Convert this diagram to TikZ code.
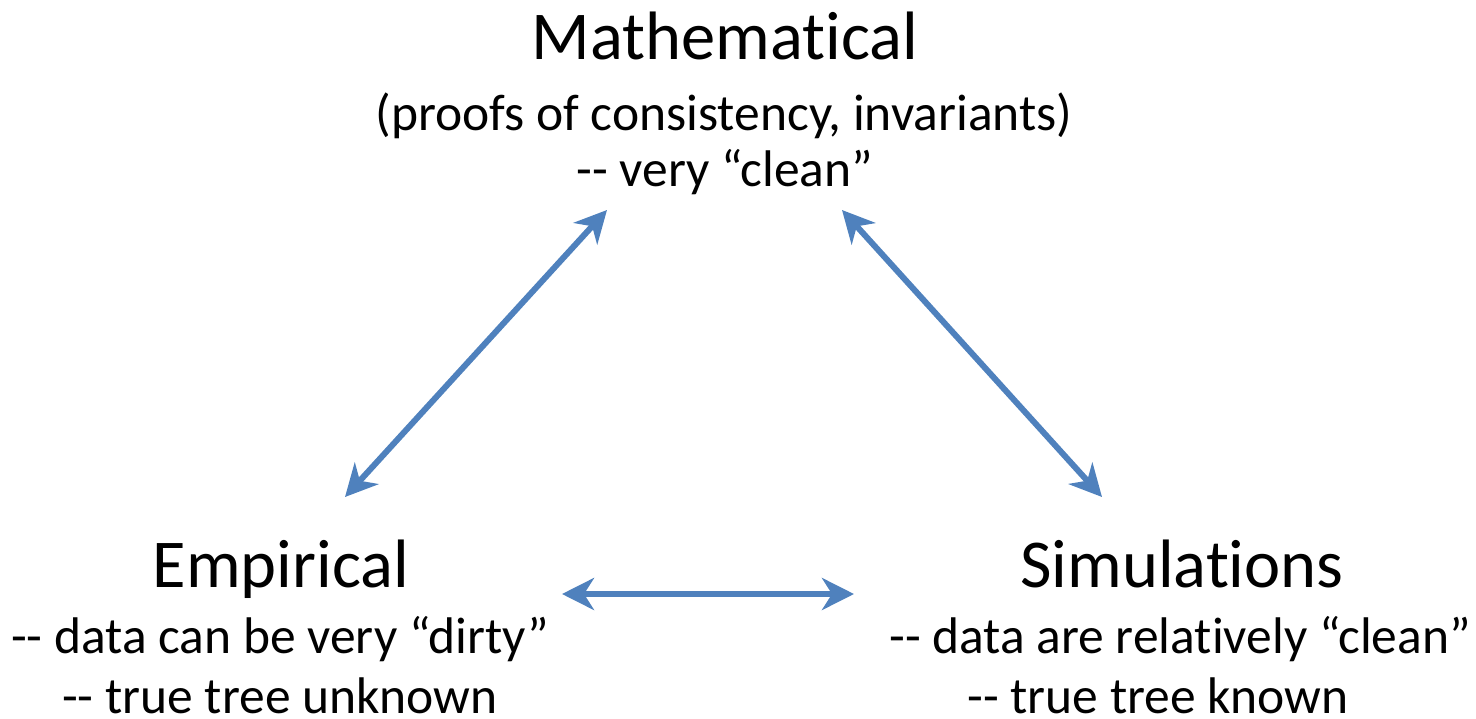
\documentclass[tikz,border=0pt]{standalone}
\usepackage{fontspec}
\setmainfont[Ligatures={NoCommon,TeX}]{Carlito}
\usetikzlibrary{arrows.meta}
\definecolor{arrowblue}{HTML}{4F81BD}
\tikzset{
  big/.style={anchor=base, inner sep=0pt, font=\fontsize{68.5}{72}\selectfont},
  small/.style={anchor=base, inner sep=0pt, font=\fontsize{51.5}{55}\selectfont},
  link/.style={draw=arrowblue, line width=6pt,
    {Stealth[length=32pt, width=32pt, inset=10pt]}-{Stealth[length=32pt, width=32pt, inset=10pt]}},
}
\begin{document}
\begin{tikzpicture}[x=1pt, y=-1pt]
\useasboundingbox (0,0) rectangle (1476,718);
\node[big] (mt) at (725,59) {Mathematical};
\node[small] (m2) at (724,130) {(proofs of consistency, invariants)};
\node[small] (m3) at (725,186) {-{}- very “clean”};
\node[big] (et) at (281,587) {Empirical};
\node[small] (e2) at (280,653) {-{}- data can be very “dirty”};
\node[small, text depth=0pt] (e3) at (280,713) {-{}- true tree unknown};
\node[big] (st) at (1182,587) {Simulations};
\node[small] (s2) at (1180,653) {-{}- data are relatively “clean”};
\node[small, text depth=0pt] (s3) at (1158,713) {-{}- true tree known};
\coordinate (mL) at (607,210);
\coordinate (eT) at (345,497);
\coordinate (mR) at (842,210);
\coordinate (sT) at (1102,497);
\coordinate (eR) at (562,594);
\coordinate (sL) at (854,594);
\draw[link] (eT) -- (mL);
\draw[link] (mR) -- (sT);
\draw[link] (eR) -- (sL);
\end{tikzpicture}
\end{document}
